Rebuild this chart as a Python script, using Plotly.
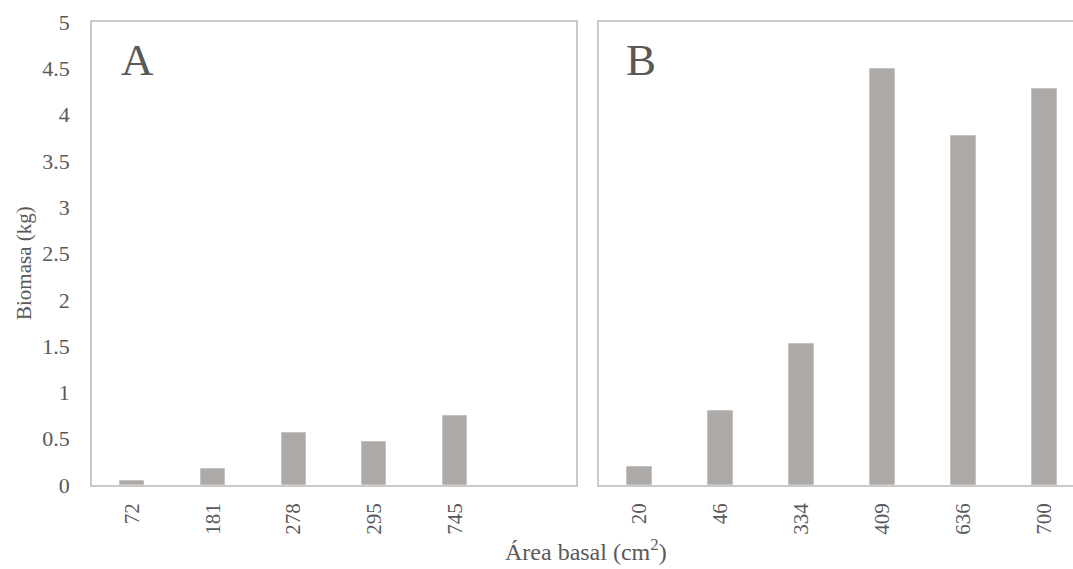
import plotly.graph_objects as go

# Data
cats_a = ["72", "181", "278", "295", "745"]
vals_a = [0.04, 0.17, 0.565, 0.465, 0.75]
cats_b = ["20", "46", "334", "409", "636", "700"]
vals_b = [0.19, 0.80, 1.52, 4.49, 3.77, 4.28]
y_ticks = [0, 0.5, 1, 1.5, 2, 2.5, 3, 3.5, 4, 4.5, 5]
y_ticktext = ["0", "0.5", "1", "1.5", "2", "2.5", "3", "3.5", "4", "4.5", "5"]

W, H = 1073, 569
FONT = "'Liberation Serif', 'Times New Roman', 'DejaVu Serif', serif"
TXT = "#595959"
BAR = "#ADA9A7"
LINE = "#C9C9C9"

fig = go.Figure()
fig.add_trace(go.Bar(x=cats_a, y=vals_a, width=0.3, marker=dict(color=BAR, line=dict(color="#C4C1BF", width=1)),
                     xaxis="x", yaxis="y", showlegend=False))
fig.add_trace(go.Bar(x=cats_b, y=vals_b, width=0.3, marker=dict(color=BAR, line=dict(color="#C4C1BF", width=1)),
                     xaxis="x2", yaxis="y2", showlegend=False))

ydom = [1 - 485 / H, 1 - 22 / H]
xa = dict(showgrid=False, zeroline=False, showline=True, linecolor=LINE, linewidth=1.5, mirror=True,
          tickangle=-90, tickfont=dict(family=FONT, size=21, color=TXT), ticks="", ticklabelstandoff=8,
          type="category", fixedrange=True, automargin=False)
ya = dict(range=[0, 5], tickvals=y_ticks, ticktext=y_ticktext, showgrid=False, zeroline=False,
          showline=True, linecolor=LINE, linewidth=1.5, ticks="", automargin=False, fixedrange=True,
          tickfont=dict(family=FONT, size=22, color=TXT), ticklabelstandoff=16, domain=ydom)

fig.update_layout(
    width=W, height=H,
    margin=dict(l=0, r=0, t=0, b=0, pad=0, autoexpand=False),
    paper_bgcolor="white", plot_bgcolor="white",
    font=dict(family=FONT, color=TXT),
    xaxis=dict(xa, domain=[92 / W, 576 / W], range=[-0.5, 5.5], anchor="y"),
    yaxis=dict(ya, mirror=True, anchor="x"),
    xaxis2=dict(xa, domain=[599 / W, 1.0], range=[-0.5, -0.5 + 474 / 81], anchor="y2", mirror=True),
    yaxis2=dict(ya, showticklabels=False, anchor="x2", mirror=False),
    bargap=0,
)

fig.add_annotation(text="A", xref="paper", yref="paper", x=137 / W, y=1 - 60 / H, showarrow=False,
                   font=dict(family=FONT, size=45, color=TXT), xanchor="center", yanchor="middle")
fig.add_annotation(text="B", xref="paper", yref="paper", x=641 / W, y=1 - 60 / H, showarrow=False,
                   font=dict(family=FONT, size=45, color=TXT), xanchor="center", yanchor="middle")
fig.add_annotation(text="Biomasa (kg)", xref="paper", yref="paper", x=24 / W, y=1 - 263 / H, showarrow=False,
                   textangle=-90, font=dict(family=FONT, size=21, color=TXT), xanchor="center", yanchor="middle")
fig.add_annotation(text="Área basal (cm<sup>2</sup>)", xref="paper", yref="paper", x=586 / W, y=1 - 550 / H,
                   showarrow=False, font=dict(family=FONT, size=24, color=TXT), xanchor="center", yanchor="middle")

fig.write_html("out.html")
